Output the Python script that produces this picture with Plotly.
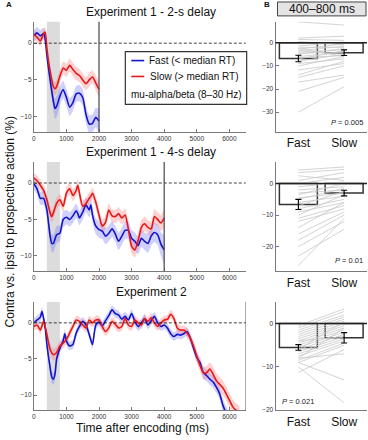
import plotly.graph_objects as go

W, H = 368, 440
FONT = "Liberation Sans"

# ---------------- data: panel A (time courses, % contra vs ipsi) ----------------
times_top = [0, 100, 200, 300, 350, 400, 500, 600, 650, 700, 800, 900, 1000, 1100, 1200,
             1300, 1400, 1500, 1600, 1700, 1800, 1900, 2000]
fast_top = [1.0, 1.4, 1.0, 1.3, 0.5, -1.6, -5.0, -7.9, -8.9, -8.6, -7.2, -6.3, -7.4, -8.7,
            -8.1, -6.9, -6.8, -7.4, -9.7, -11.0, -10.9, -10.1, -10.6]
sem_fast_top = [0.8, 0.8, 0.8, 0.8, 0.8, 0.9, 1.1, 1.3, 1.4, 1.4, 1.3, 1.2, 1.2, 1.2, 1.1,
                1.1, 1.1, 1.1, 1.2, 1.2, 1.2, 1.3, 1.6]
slow_top = [1.2, 0.8, 0.3, 1.3, 1.5, -0.7, -3.8, -5.9, -6.2, -5.9, -4.5, -3.4, -3.7, -3.0,
            -3.6, -4.1, -4.4, -5.0, -5.5, -5.0, -4.6, -5.4, -6.3]
sem_slow_top = [0.7, 0.7, 0.7, 0.7, 0.7, 0.8, 0.8, 0.9, 0.9, 0.9, 0.9, 0.9, 0.9, 0.9, 0.9,
                0.9, 0.9, 0.9, 0.9, 0.9, 0.9, 1.0, 1.1]

times_mid = [0, 100, 200, 300, 400, 500, 550, 600, 700, 800, 900, 1000, 1100, 1200, 1300,
             1350, 1400, 1500, 1600, 1700, 1750,
             1800, 1900, 2000, 2100, 2200, 2300, 2400, 2500, 2600, 2700, 2800, 2900, 3000,
             3100, 3200, 3300, 3400, 3500, 3600, 3700, 3800, 3900, 4000]
fast_mid = [-0.1, -0.8, -2.1, -2.1, -3.7, -7.3, -8.3, -8.3, -7.1, -6.9, -5.0, -4.7, -5.0,
            -4.5, -3.8, -4.2, -4.8, -4.0, -3.0, -3.7, -3.0,
            -4.4, -5.9, -6.4, -6.6, -7.3, -6.9, -6.3, -7.0, -8.0, -7.3, -6.5, -6.5, -7.6,
            -8.0, -8.6, -7.6, -8.0, -8.3, -7.3, -6.8, -7.1, -8.4, -9.2]
sem_fast_mid = [0.8, 0.8, 0.9, 0.9, 1.0, 1.1, 1.2, 1.2, 1.2, 1.1, 1.1, 1.0, 1.0, 1.0, 1.0,
                1.0, 1.0, 1.0, 1.0, 1.0, 1.0,
                1.0, 1.1, 1.1, 1.1, 1.1, 1.1, 1.1, 1.1, 1.2, 1.2, 1.2, 1.2, 1.2, 1.2, 1.2,
                1.2, 1.2, 1.3, 1.3, 1.3, 1.4, 1.6, 2.0]
slow_mid = [0.7, 0.3, -0.3, -1.0, -2.3, -4.1, -4.6, -4.1, -2.8, -2.3, -3.2, -1.4, -0.8,
            -1.7, -1.0, -0.3, -1.4, -3.2, -2.8, -2.1, -1.8,
            -1.4, -2.6, -4.4, -5.9, -5.4, -3.7, -4.5, -4.6, -4.2, -4.8, -4.4, -6.3, -8.7,
            -9.2, -7.9, -6.1, -5.6, -6.1, -6.3, -4.6, -5.0, -5.5, -4.8]
sem_slow_mid = [0.7, 0.7, 0.7, 0.7, 0.8, 0.8, 0.8, 0.8, 0.8, 0.8, 0.8, 0.8, 0.8, 0.8, 0.8,
                0.8, 0.8, 0.8, 0.8, 0.8, 0.8,
                0.8, 0.8, 0.9, 0.9, 0.9, 0.9, 0.9, 0.9, 0.9, 0.9, 0.9, 1.0, 1.0, 1.0, 1.0,
                1.0, 1.0, 1.0, 1.0, 1.0, 1.0, 1.1, 1.2]

times_bot_fast = [0, 100, 200, 250, 300, 350, 400, 500, 550, 600, 650, 700, 800, 900, 950,
                  1000, 1100, 1200, 1300, 1400, 1500, 1600, 1700, 1800, 1900,
                  2000, 2100, 2200, 2300, 2400, 2500, 2600, 2700, 2800, 2900,
                  3000, 3100, 3200, 3300, 3400, 3500, 3600, 3700, 3800, 3900,
                  4000, 4100, 4200, 4300, 4400, 4500, 4600, 4700, 4800, 4900,
                  5000, 5100, 5200, 5300, 5400, 5500, 5600, 5700, 5800, 5900, 6000]
fast_bot = [0.0, 0.4, 0.8, 1.6, 0.6, -0.7, -3.0, -6.2, -7.5, -7.8, -7.1, -5.0, -3.5, -2.5, -1.5,
            -2.5, -3.2, -3.0, -1.4, -0.5, 0.2, -0.3, -1.6, -3.0, -0.3,
            0.1, -0.4, 0.3, 1.0, 1.8, 1.3, 1.1, 0.5, 0.9, 0.4,
            1.3, 0.2, -0.5, 0.0, 0.6, -0.3, 0.3, 0.9, 0.0, -0.5,
            -0.3, -0.7, -1.5, -1.9, -1.6, -1.7, -1.5, -1.2, -2.1, -3.5,
            -4.8, -5.5, -6.9, -7.3, -7.8, -8.2, -8.9, -9.8, -11.4, -12.5, -13.5]
sem_fast_bot = [0.6, 0.6, 0.6, 0.6, 0.6, 0.6, 0.7, 0.8, 0.8, 0.8, 0.8, 0.7, 0.7, 0.6, 0.6,
                0.6, 0.6, 0.6, 0.6, 0.6, 0.6, 0.6, 0.6, 0.6, 0.6,
                0.6, 0.6, 0.6, 0.6, 0.6, 0.6, 0.6, 0.6, 0.6, 0.6,
                0.6, 0.6, 0.6, 0.6, 0.6, 0.6, 0.6, 0.6, 0.6, 0.6,
                0.6, 0.6, 0.6, 0.6, 0.6, 0.6, 0.6, 0.6, 0.6, 0.7,
                0.7, 0.7, 0.8, 0.8, 0.8, 0.8, 0.8, 0.8, 0.9, 0.9, 0.9]

times_bot_slow = list(range(0, 6301, 100))
slow_bot = [-0.5, -0.3, -1.0, 0.2, -1.6, -3.7, -4.4, -4.1, -3.2, -2.8,
            -2.3, -1.4, -0.5, 0.4, 0.2, -0.3, -0.7, 0.4, 0.0, 0.4,
            0.4, -0.5, -1.2, -0.7, 0.2, -0.2, -0.7, -0.5, 0.6, -0.3,
            -0.5, 0.4, 0.0, -0.3, 0.6, 0.2, 0.7, 0.0, -0.5, 0.0,
            0.4, 0.5, 1.2, 0.6, -0.7, -1.0, -1.0, -1.4, -2.1, -3.2,
            -4.6, -5.9, -6.9, -6.9, -6.4, -7.1, -8.0, -8.5, -9.0, -9.8,
            -10.7, -11.6, -12.1, -12.5]
sem_slow_bot = [0.6, 0.6, 0.6, 0.6, 0.7, 0.8, 0.8, 0.8, 0.7, 0.7,
                0.6, 0.6, 0.6, 0.6, 0.6, 0.6, 0.6, 0.6, 0.6, 0.6,
                0.6, 0.6, 0.6, 0.6, 0.6, 0.6, 0.6, 0.6, 0.6, 0.6,
                0.6, 0.6, 0.6, 0.6, 0.6, 0.6, 0.6, 0.6, 0.6, 0.6,
                0.6, 0.6, 0.6, 0.6, 0.6, 0.6, 0.6, 0.7, 0.7, 0.7,
                0.8, 0.8, 0.9, 0.9, 0.9, 1.0, 1.0, 1.0, 1.0, 1.0,
                1.0, 1.0, 1.0, 1.0]

# ---------------- data: panel B (400-800 ms averages) ----------------
conditions = ["Fast", "Slow"]
bar_top = [-6.8, -4.3]
err_top = [1.4, 1.2]
subj_fast_top = [9, 2, 1.4, 0.5, -1.4, -2, -2.8, -3.5, -4, -5, -6, -7, -8, -9, -10, -11.8,
                 -13.9, -15, -17, -21, -30, -4.5, -6.5, -2.5]
subj_slow_top = [7.6, 2.8, 1, -1, 0.2, -2, -0.5, -1.5, -3, -2.5, -4, -3.5, -5, -7, -6, -9,
                 -8, -10, -14, -15, -19, -4, -5.5, -6]
bar_mid = [-6.6, -3.0]
err_mid = [1.6, 0.9]
subj_fast_mid = [4.3, 3.5, 2.5, 1, 0, -1, -2, -3, -3.5, -4.5, -5, -6, -7, -8, -9, -10, -11,
                 -12, -14, -16, -18, -20, -23, -26]
subj_slow_mid = [5.3, 4.5, 1, 3.5, 2, 0.5, -1, -2, 0, -3, -1.5, -4, -2.5, -5, -6, -3.5, -7,
                 -8, -6, -9, -10, -12, -14.5, -11]
bar_bot = [-5.5, -3.3]
err_bot = [0.65, 1.2]
subj_fast_bot = [-0.5, -1, -1.5, -2, -2.5, -3, -3.5, -4, -4.5, -5, -5.5, -6, -6.5, -7, -7.5,
                 -8, -8.5, -9, -9, -10, -11.3, -8, -4, -6]
subj_slow_bot = [3.4, 2.8, 2, 1.5, 1, 0.5, 0, -0.5, -1, -1.5, -2, -2.5, -3, -3.5, -4, -1,
                 -4.5, -5, -13, -18.3, -6, -7, -3, 0.5]
p_labels = ["<i>P</i> = 0.005", "<i>P</i> = 0.01", "<i>P</i> = 0.021"]

titles = ["Experiment 1 - 2-s delay", "Experiment 1 - 4-s delay", "Experiment 2"]
x_ticks_A = [0, 1000, 2000, 3000, 4000, 5000, 6000]

# ---------------- layout helpers ----------------
def px(x):
    return x / W


def py(y):
    return 1 - y / H


BLUE = "rgb(20,20,205)"
RED = "rgb(230,25,25)"
BLUE_BAND = "rgba(110,110,255,0.32)"
RED_BAND = "rgba(255,110,110,0.32)"
AXC = "#7a7a7a"
TXC = "#333333"

A_X = [px(32), px(245)]
B_X = [px(275), px(367)]
ROWS = [(22, 133), (163, 273), (304, 413)]
A_YR = [-12.1, 2.9]
B_YR = [[-38.6, 9.0], [-27.8, 6.9], [-20.0, 5.0]]
B_YT = [[0, -10, -20, -30], [0, -10, -20], [0, -10, -20]]

fig = go.Figure()


def band(xs, m, s, color, ax):
    up = [a + b for a, b in zip(m, s)]
    lo = [a - b for a, b in zip(m, s)]
    fig.add_trace(go.Scatter(x=list(xs) + list(xs)[::-1], y=up + lo[::-1], fill="toself",
                             fillcolor=color, line=dict(width=0, shape="spline", smoothing=0.6),
                             mode="lines", hoverinfo="skip", showlegend=False,
                             xaxis="x" + ax, yaxis="y" + ax))


def line(xs, m, color, ax):
    fig.add_trace(go.Scatter(x=xs, y=m, mode="lines",
                             line=dict(color=color, width=1.6, shape="spline", smoothing=0.6),
                             showlegend=False, xaxis="x" + ax, yaxis="y" + ax))


series = [
    (times_top, fast_top, sem_fast_top, times_top, slow_top, sem_slow_top),
    (times_mid, fast_mid, sem_fast_mid, times_mid, slow_mid, sem_slow_mid),
    (times_bot_fast, fast_bot, sem_fast_bot, times_bot_slow, slow_bot, sem_slow_bot),
]

shapes = []
annotations = []
layout_axes = {}

for i, (tf, f, sf, ts, s, ss) in enumerate(series):
    n = i + 1
    ax = "" if n == 1 else str(n)
    band(tf, f, sf, BLUE_BAND, ax)
    band(ts, s, ss, RED_BAND, ax)
    line(tf, f, BLUE, ax)
    line(ts, s, RED, ax)
    y0, y1 = ROWS[i]
    layout_axes["xaxis" + ax] = dict(domain=A_X, anchor="y" + ax, range=[0, 6500],
                                     tickvals=x_ticks_A, ticks="inside", ticklen=3,
                                     tickcolor=AXC, showline=True, linecolor=AXC, linewidth=1,
                                     showgrid=False, zeroline=False,
                                     tickfont=dict(size=6.5, color=TXC, family=FONT))
    layout_axes["yaxis" + ax] = dict(domain=[py(y1), py(y0)], anchor="x" + ax, range=A_YR,
                                     tickvals=[0, -5, -10], ticks="inside", ticklen=3,
                                     tickcolor=AXC, showline=True, linecolor=AXC, linewidth=1,
                                     showgrid=False, zeroline=False,
                                     tickfont=dict(size=6.5, color=TXC, family=FONT))
    xr, yr = "x" + ax, "y" + ax
    shapes.append(dict(type="rect", xref=xr, yref=yr + " domain", x0=400, x1=800, y0=0, y1=1,
                       fillcolor="#dcdcdc", line=dict(width=0), layer="below"))
    shapes.append(dict(type="line", xref=xr + " domain", yref=yr, x0=0, x1=1, y0=0, y1=0,
                       line=dict(color="#111", width=0.8, dash="3px,2px")))
    annotations.append(dict(text=titles[i], x=px(150), y=py(y0 - 10), xref="paper", yref="paper",
                            showarrow=False, font=dict(size=12, color="#111", family=FONT),
                            xanchor="center", yanchor="middle"))

# vertical delay-end lines
shapes.append(dict(type="line", xref="x", yref="y domain", x0=2000, x1=2000, y0=0, y1=1,
                   line=dict(color="#555", width=1.3)))
shapes.append(dict(type="line", xref="x2", yref="y2 domain", x0=4000, x1=4000, y0=0, y1=1,
                   line=dict(color="#555", width=1.3)))
shapes.append(dict(type="line", xref="x3", yref="y3 domain", x0=6500, x1=6500, y0=0, y1=1,
                   line=dict(color="#666", width=1)))

# ---------------- panel B ----------------
bvals = [(bar_top, err_top, subj_fast_top, subj_slow_top),
         (bar_mid, err_mid, subj_fast_mid, subj_slow_mid),
         (bar_bot, err_bot, subj_fast_bot, subj_slow_bot)]
p_pos = [(365, 123, "right"), (365, 262, "right"), (280, 404, "left")]

for i, (bars, errs, sf, ssl) in enumerate(bvals):
    n = i + 4
    ax = str(n)
    fig.add_trace(go.Bar(x=[1, 2], y=bars, width=0.83,
                         marker=dict(color="white", line=dict(color="#333", width=1.5)),
                         showlegend=False, xaxis="x" + ax, yaxis="y" + ax))
    gx, gy = [], []
    for a, b in zip(sf, ssl):
        gx += [1, 2, None]
        gy += [a, b, None]
    fig.add_trace(go.Scatter(x=gx, y=gy, mode="lines", line=dict(color="#c8c8c8", width=0.8),
                             showlegend=False, xaxis="x" + ax, yaxis="y" + ax))
    fig.add_trace(go.Scatter(x=[1, 2], y=bars, mode="markers",
                             marker=dict(size=1, color="black"),
                             error_y=dict(type="data", array=errs, color="black",
                                          thickness=1.1, width=3),
                             showlegend=False, xaxis="x" + ax, yaxis="y" + ax))
    y0, y1 = ROWS[i]
    layout_axes["xaxis" + ax] = dict(domain=B_X, anchor="y" + ax, range=[0.5, 2.5],
                                     tickvals=[1, 2], ticktext=conditions, ticks="",
                                     showline=True, linecolor=AXC, linewidth=1,
                                     showgrid=False, zeroline=False,
                                     tickfont=dict(size=12, color="#111", family=FONT))
    layout_axes["yaxis" + ax] = dict(domain=[py(y1), py(y0)], anchor="x" + ax, range=B_YR[i],
                                     tickvals=B_YT[i], ticks="inside", ticklen=3,
                                     tickcolor=AXC, showline=True, linecolor=AXC, linewidth=1,
                                     showgrid=False, zeroline=False,
                                     tickfont=dict(size=6.5, color=TXC, family=FONT))
    shapes.append(dict(type="line", xref="x" + ax + " domain", yref="y" + ax, x0=0, x1=1,
                       y0=0, y1=0, line=dict(color="#222", width=1.5)))
    xx, yy, anc = p_pos[i]
    annotations.append(dict(text=p_labels[i], x=px(xx), y=py(yy), xref="paper", yref="paper",
                            showarrow=False, xanchor=anc, yanchor="middle",
                            font=dict(size=7.5, color="#222", family=FONT)))

# ---------------- decorations ----------------
# legend box (top panel A)
shapes.append(dict(type="rect", xref="paper", yref="paper", x0=px(124), x1=px(246),
                   y0=py(105), y1=py(52), fillcolor="white", line=dict(color="#333", width=1.2)))
shapes.append(dict(type="line", xref="paper", yref="paper", x0=px(130), x1=px(143),
                   y0=py(61), y1=py(61), line=dict(color=BLUE, width=1.6)))
shapes.append(dict(type="line", xref="paper", yref="paper", x0=px(130), x1=px(143),
                   y0=py(77), y1=py(77), line=dict(color=RED, width=1.6)))
for txt, xx, yy in [("Fast (< median RT)", 145.5, 61), ("Slow (> median RT)", 147, 77),
                    ("mu-alpha/beta (8–30 Hz)", 128, 95)]:
    annotations.append(dict(text=txt, x=px(xx), y=py(yy), xref="paper", yref="paper",
                            showarrow=False, xanchor="left", yanchor="middle",
                            font=dict(size=10, color="#111", family=FONT)))

# 400-800 ms box
shapes.append(dict(type="rect", xref="paper", yref="paper", x0=px(277), x1=px(366),
                   y0=py(16), y1=py(2), fillcolor="#e4e4e4", line=dict(color="#444", width=1)))
annotations.append(dict(text="400–800 ms", x=px(321.5), y=py(9), xref="paper", yref="paper",
                        showarrow=False, xanchor="center", yanchor="middle",
                        font=dict(size=12, color="#111", family=FONT)))

annotations.append(dict(text="<b>A</b>", x=px(2), y=py(5), xref="paper", yref="paper",
                        showarrow=False, xanchor="left", yanchor="middle",
                        font=dict(size=8, color="#111", family=FONT)))
annotations.append(dict(text="<b>B</b>", x=px(261), y=py(5), xref="paper", yref="paper",
                        showarrow=False, xanchor="left", yanchor="middle",
                        font=dict(size=8, color="#111", family=FONT)))
annotations.append(dict(text="Contra vs. ipsi to prospective action (%)", x=px(9), y=py(223),
                        xref="paper", yref="paper", showarrow=False, textangle=-90,
                        xanchor="center", yanchor="middle",
                        font=dict(size=12, color="#111", family=FONT)))
annotations.append(dict(text="Time after encoding (ms)", x=px(141), y=py(431),
                        xref="paper", yref="paper", showarrow=False,
                        xanchor="center", yanchor="middle",
                        font=dict(size=12, color="#111", family=FONT)))

fig.update_layout(width=W, height=H, margin=dict(l=0, r=0, t=0, b=0),
                  paper_bgcolor="white", plot_bgcolor="white", showlegend=False,
                  font=dict(family=FONT), shapes=shapes, annotations=annotations,
                  **layout_axes)

fig.write_html("out.html", config={"displayModeBar": False},
               post_script="document.body.style.margin='0';document.body.style.overflow='hidden';")
